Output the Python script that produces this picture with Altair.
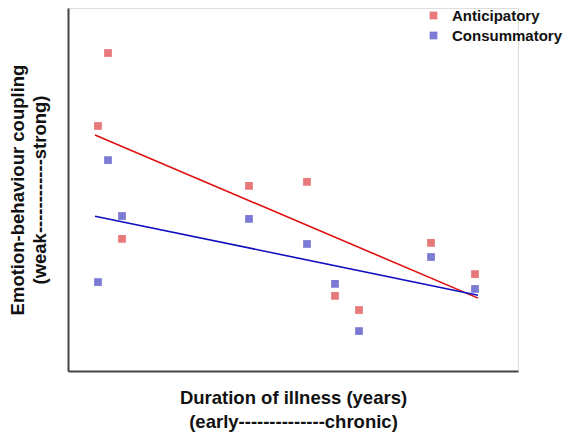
import altair as alt
import pandas as pd

# Duration of illness (arbitrary units, early -> chronic)
antic_x = [3.0, 4.0, 5.4, 18.1, 23.9, 26.7, 29.1, 36.3, 40.7]
antic_y = [0.675, 0.876, 0.364, 0.510, 0.521, 0.207, 0.168, 0.353, 0.267]
consum_x = [3.0, 4.0, 5.4, 18.1, 23.9, 26.7, 29.1, 36.3, 40.7]
consum_y = [0.245, 0.581, 0.427, 0.419, 0.350, 0.240, 0.110, 0.314, 0.226]
series = ["Anticipatory", "Consummatory"]

df = pd.DataFrame({
    "duration": antic_x + consum_x,
    "coupling": antic_y + consum_y,
    "group": [series[0]] * len(antic_x) + [series[1]] * len(consum_x),
})

xscale = alt.Scale(domain=[0, 45], nice=False, zero=False)
yscale = alt.Scale(domain=[0, 1], nice=False, zero=False)

xaxis = alt.Axis(
    title=["Duration of illness (years)", "(early--------------chronic)"],
    ticks=False, labels=False, grid=False,
    domainColor="#444444", domainWidth=2,
    titleFont="Liberation Sans", titleFontSize=18.5, titleFontWeight="bold",
    titleColor="#111111", titlePadding=17, titleLineHeight=24,
)
yaxis = alt.Axis(
    title=["Emotion-behaviour coupling", "(weak------------strong)"],
    ticks=False, labels=False, grid=False,
    domainColor="#444444", domainWidth=2,
    titleFont="Liberation Sans", titleFontSize=18.5, titleFontWeight="bold",
    titleColor="#111111", titlePadding=19, titleLineHeight=22,
)

base = alt.Chart(df)

points = base.mark_square(size=60, opacity=1).encode(
    x=alt.X("duration:Q", scale=xscale, axis=xaxis),
    y=alt.Y("coupling:Q", scale=yscale, axis=yaxis),
    color=alt.Color(
        "group:N",
        scale=alt.Scale(domain=series, range=["#e8797b", "#7b7bd6"]),
        legend=alt.Legend(
            title=None, orient="none", legendX=358, legendY=0,
            symbolType="square", symbolSize=60, symbolOpacity=1,
            labelFont="Liberation Sans", labelFontSize=15, labelFontWeight="bold",
            labelColor="#111111", rowPadding=4, labelOffset=11, padding=0,
        ),
    ),
)

def reg_line(name, color):
    return base.transform_filter(alt.datum.group == name).transform_regression(
        "duration", "coupling", extent=[2.7, 41.0]
    ).mark_line(color=color, strokeWidth=1.6).encode(
        x=alt.X("duration:Q", scale=xscale),
        y=alt.Y("coupling:Q", scale=yscale),
    )

chart = alt.layer(
    points,
    reg_line(series[0], "#e01010"),
    reg_line(series[1], "#1010c0"),
).properties(
    width=450, height=363,
    padding={"left": 68, "top": 8, "right": 45, "bottom": 63},
    autosize=alt.AutoSizeParams(type="none"),
).configure_view(stroke=None).configure(background="white")

chart.save("out.html", embed_options={"renderer": "svg", "actions": False})
